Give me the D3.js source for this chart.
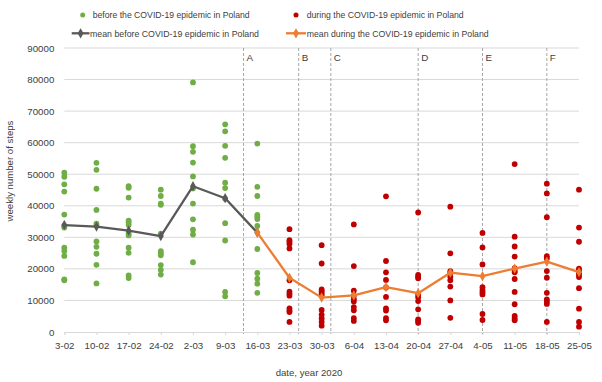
<!DOCTYPE html>
<html>
<head>
<meta charset="utf-8">
<script src="https://cdn.jsdelivr.net/npm/d3@7"></script>
<style>
  html, body { margin: 0; padding: 0; background: #fff; }
  svg text { font-family: "Liberation Sans", Arial, sans-serif; fill: #404040; }
</style>
</head>
<body>
<svg id="chart" width="602" height="382"></svg>
<script>
// ---------- data ----------
const categories = ["3-02","10-02","17-02","24-02","2-03","9-03","16-03","23-03","30-03","6-04","13-04","20-04","27-04","4-05","11-05","18-05","25-05"];
const yTicks = [0,10000,20000,30000,40000,50000,60000,70000,80000,90000];

const beforeCategories = ["3-02","10-02","17-02","24-02","2-03","9-03","16-03"];
const beforeValues = [
  [50500,49200,46800,44500,37200,33600,33100,26700,25700,24100,16700,16400],
  [53600,51400,45400,38700,34300,33700,28700,27000,24800,21300,15400],
  [46200,45700,42600,35300,34700,33900,31300,30600,26700,25100,17900,17100],
  [45100,43100,40700,40300,31200,25600,24900,24300,21200,19700,18200],
  [79100,58900,57100,53700,49300,45500,40700,35700,32400,30900,22100],
  [65800,63600,59000,55200,47300,45600,42200,34500,29000,12700,11300],
  [59700,46000,43100,37100,36500,35800,33600,26300,18700,16900,15300,12400]
];

const duringCategories = ["23-03","30-03","6-04","13-04","20-04","27-04","4-05","11-05","18-05","25-05"];
const duringValues = [
  [32600,29100,28500,27900,26500,16400,12800,12100,11500,7500,6800,6300,3200],
  [27500,21700,13500,12900,12200,11600,7000,5500,4300,3200,2000],
  [34100,20900,13100,11500,10400,9700,7900,6900,4400,3500],
  [43000,22500,18900,16500,14100,11100,7500,6800,4400,3700],
  [37900,18100,17500,17000,11800,11000,9800,7200,4000,3500,2900],
  [39700,24900,19300,18800,17500,16400,14400,10000,4500],
  [31400,26800,21400,14200,13300,12600,11900,5700,3800],
  [53200,30200,27100,23900,20200,19400,18900,16800,12700,8800,5100,4300,3700],
  [47000,43900,36400,24000,23300,19300,17200,12400,10300,9700,8900,3200],
  [45100,33100,28600,20100,19500,18800,18100,17400,13900,7400,3200,1700]
];

const meanBeforeCategories = ["3-02","10-02","17-02","24-02","2-03","9-03","16-03"];
const meanBeforeValues = [33900,33400,32100,30400,46200,42400,31500];
const meanDuringCategories = ["16-03","23-03","30-03","6-04","13-04","20-04","27-04","4-05","11-05","18-05","25-05"];
const meanDuringValues = [31500,17200,10900,11600,14200,12300,18800,17700,20100,22300,19000];

const markerLabels = ["A","B","C","D","E","F"];
const markerDates = ["2020-03-13","2020-03-25","2020-04-01","2020-04-20","2020-05-04","2020-05-18"];
const firstDate = "2020-02-03";

const legendLabels = [
  "before the COVID-19 epidemic in Poland",
  "during the COVID-19 epidemic in Poland",
  "mean before COVID-19 epidemic in Poland",
  "mean during the COVID-19 epidemic in Poland"
];

// ---------- chart ----------
(function () {
const green = "#70ad47", red = "#c00000", gray = "#595959", orange = "#ed7d31";
const svg = d3.select("#chart");
const pLeft = 64.3, pRight = 579, pTop = 48, pBottom = 332;

const x = d3.scalePoint().domain(categories).range([pLeft, pRight]);
const xi = d3.scaleLinear().domain([0, categories.length - 1]).range([pLeft, pRight]);
const y = d3.scaleLinear().domain([0, 90000]).range([pBottom, pTop]);

// gridlines
svg.append("g").selectAll("line").data(yTicks.filter(d => d > 0)).join("line")
  .attr("x1", pLeft).attr("x2", pRight)
  .attr("y1", d => y(d)).attr("y2", d => y(d))
  .attr("stroke", "#d9d9d9").attr("stroke-width", 1);

// y axis labels
const yAxis = svg.append("g").attr("transform", `translate(${pLeft},0)`)
  .call(d3.axisLeft(y).tickValues(yTicks).tickFormat(d3.format("d")).tickSize(0).tickPadding(10));
yAxis.select(".domain").remove();
yAxis.selectAll("text").style("font-size", "9.7px").attr("fill", "#404040")
  .attr("font-family", "Liberation Sans, Arial, sans-serif");

// x axis
const xAxis = svg.append("g").attr("transform", `translate(0,${pBottom})`)
  .call(d3.axisBottom(x).tickSize(3).tickPadding(7));
xAxis.select(".domain").attr("stroke", "#d9d9d9");
xAxis.selectAll(".tick line").attr("stroke", "#d9d9d9");
xAxis.selectAll("text").style("font-size", "9.7px").attr("fill", "#404040")
  .attr("font-family", "Liberation Sans, Arial, sans-serif");

// dashed period lines
const dayMs = 86400000;
const idxOf = s => (new Date(s) - new Date(firstDate)) / dayMs / 7;
const periods = markerDates.map((d, i) => ({ label: markerLabels[i], idx: idxOf(d) }));
const pg = svg.append("g");
pg.selectAll("line").data(periods).join("line")
  .attr("x1", d => xi(d.idx)).attr("x2", d => xi(d.idx))
  .attr("y1", pTop).attr("y2", pBottom + 2)
  .attr("stroke", "#a6a6a6").attr("stroke-width", 1).attr("stroke-dasharray", "3,2");
pg.selectAll("text").data(periods).join("text")
  .attr("x", d => xi(d.idx) + 3).attr("y", 61)
  .style("font-size", "9.8px").text(d => d.label);

// dots
const beforePts = beforeValues.flatMap((vals, i) => vals.map(v => ({ c: beforeCategories[i], v })));
const duringPts = duringValues.flatMap((vals, i) => vals.map(v => ({ c: duringCategories[i], v })));
svg.append("g").selectAll("circle").data(beforePts).join("circle")
  .attr("cx", d => x(d.c)).attr("cy", d => y(d.v)).attr("r", 2.9).attr("fill", green);
svg.append("g").selectAll("circle").data(duringPts).join("circle")
  .attr("cx", d => x(d.c)).attr("cy", d => y(d.v)).attr("r", 2.9).attr("fill", red);

// mean lines
const line = d3.line().x(d => x(d.c)).y(d => y(d.v));
const diamond = d3.symbol().type(d3.symbolDiamond).size(30);
function drawMean(cats, vals, color) {
  const pts = cats.map((c, i) => ({ c, v: vals[i] }));
  const g = svg.append("g");
  g.append("path").datum(pts).attr("d", line).attr("fill", "none")
    .attr("stroke", color).attr("stroke-width", 2.3).attr("stroke-linejoin", "round");
  g.selectAll("path.m").data(pts).join("path").attr("class", "m")
    .attr("d", diamond).attr("transform", d => `translate(${x(d.c)},${y(d.v)})`)
    .attr("fill", color);
}
drawMean(meanBeforeCategories, meanBeforeValues, gray);
drawMean(meanDuringCategories, meanDuringValues, orange);

// axis titles
svg.append("text").attr("transform", "translate(13,171) rotate(-90)")
  .attr("text-anchor", "middle").style("font-size", "9.6px").text("weekly number of steps");
svg.append("text").attr("x", 309).attr("y", 375.5)
  .attr("text-anchor", "middle").style("font-size", "9.6px").text("date, year 2020");

// legend
const lg = svg.append("g");
const legendItems = [
  { type: "dot", color: green, sx: 82.7, tx: 92.7, cy: 15, w: 157 },
  { type: "dot", color: red, sx: 296, tx: 306.7, cy: 15, w: 157 },
  { type: "line", color: gray, sx: 71.7, ex: 89.5, tx: 90, cy: 33.3, w: 169 },
  { type: "line", color: orange, sx: 286, ex: 306, tx: 306.7, cy: 33.3, w: 182 }
];
legendItems.forEach((it, i) => {
  if (it.type === "dot") {
    lg.append("circle").attr("cx", it.sx).attr("cy", it.cy).attr("r", 2.5).attr("fill", it.color);
  } else {
    lg.append("line").attr("x1", it.sx).attr("x2", it.ex).attr("y1", it.cy).attr("y2", it.cy)
      .attr("stroke", it.color).attr("stroke-width", 2.3);
    lg.append("path").attr("d", diamond).attr("fill", it.color)
      .attr("transform", `translate(${(it.sx + it.ex) / 2},${it.cy})`);
  }
  lg.append("text").attr("x", it.tx).attr("y", it.cy + 3.4)
    .style("font-size", "9.8px")
    .attr("textLength", it.w).attr("lengthAdjust", "spacingAndGlyphs")
    .text(legendLabels[i]);
});
})();
</script>
</body>
</html>
